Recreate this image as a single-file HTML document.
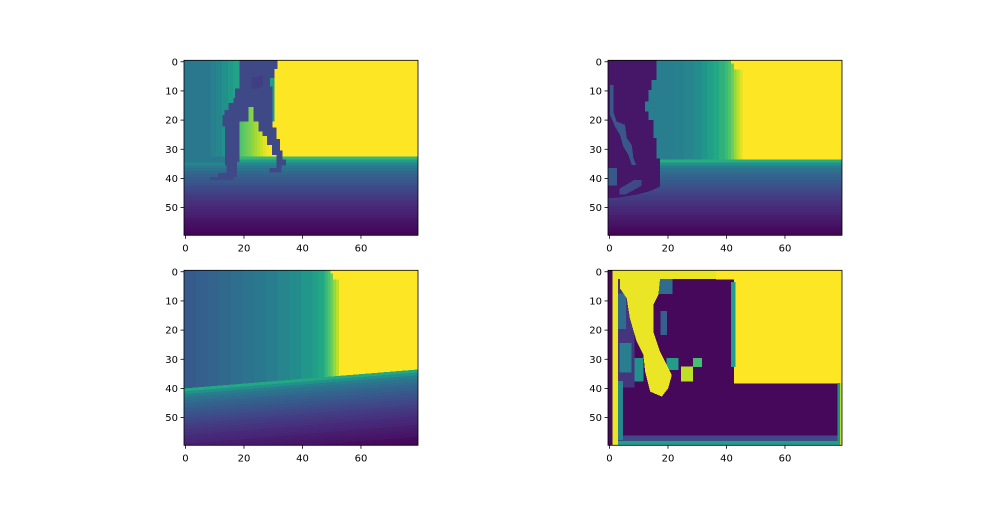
<!DOCTYPE html>
<html><head><meta charset="utf-8"><style>
html,body{margin:0;padding:0;background:#fff;}
svg text{font-family:"DejaVu Sans","Liberation Sans",sans-serif;font-size:10px;fill:#000;}
</style></head><body>
<svg id="fig" width="1000" height="500" viewBox="0 0 1000 500" xmlns="http://www.w3.org/2000/svg"></svg>
<script>
// ---- data (value 0..1 mapped through viridis), coordinates in image cells (80 cols x 60 rows)
const xTicks = [0, 20, 40, 60];
const yTicks = [0, 10, 20, 30, 40, 50];

// Panel 1 (top-left)
const p1Rects = [[0,0,9,36,0.40],[9,0,11,36,0.43],[11,0,13,36,0.46],[13,0,15,36,0.5],[15,0,17,36,0.54],[17,0,19,36,0.58],[19,0,31,21,0.55],[31,0,80,33,1.0],
  [19,21,20,33,0.72],[20,21,21,33,0.75],[21,21,22,33,0.78],[22,16,23,33,0.8],[23,16,24,33,0.83],[24,21,25,33,0.86],[25,21,26,33,0.89],[26,21,27,33,0.92],[27,21,28,33,0.95],[28,21,29,33,0.98],[29,21,31,33,1.0]];
const p1FloorStart = 33;
const p1Floor = [0.66,0.55,0.46,0.41,0.37,0.34,0.31,0.29,0.27,0.25,0.23,0.21,0.19,0.17,0.16,0.14,0.13,0.11,0.1,0.09,0.08,0.06,0.05,0.04,0.03,0.02,0.01];
const p1Slant = 0;
const p1Polys = [
  {v:0.40, pts:[[0,33],[19,33],[19,35],[0,35]]},
  {v:0.22, pts:[[19,0],[32,0],[32,3],[31,3],[31,6],[29.4,6],[29.4,9],[30.3,9],[30.3,23],[31.7,23],[31.7,27],[32.8,27],[32.8,31],[33.7,31],[33.7,34],[34.9,34],[34.9,36],[33.4,36],[33.4,38.4],[29.2,38.4],[29.2,37],[31.7,37],[31.7,32.4],[30,32.4],[30,29],[28.3,29],[28.3,26],[26.9,26],[26.9,24.4],[25.4,24.4],[25.4,21],[23.7,21],[23.7,16],[22,16],[22,21],[19,21],[19,34.7],[18.2,34.7],[18.2,40],[16.9,40],[16.9,41],[8.9,41],[8.9,40],[11.7,40],[11.7,38.7],[14.6,38.7],[14.6,36],[14,36],[14,22.7],[13.1,22.7],[13.1,18.7],[13.8,18.7],[13.8,17],[15.2,17],[15.2,14.7],[16.9,14.7],[16.9,13],[17.4,13],[17.4,9.6],[19,9.6]]},
  {v:0.18, pts:[[23,6],[27,5],[27,9],[24,10],[23,9]]}
];

// Panel 2 (top-right)
const p2Rects = [[0,0,17,34,0.42],[17,0,22,34,0.42],[22,0,26,34,0.43],[26,0,29,34,0.45],[29,0,32,34,0.48],[32,0,34,34,0.52],[34,0,36,34,0.56],[36,0,38,34,0.6],[38,0,40,34,0.64],[40,0,41,34,0.68],[41,0,42,34,0.72],[42,0,43,34,0.78],[43,0,44,34,0.84],[44,0,45,34,0.9],[45,0,46,34,0.95],[46,0,80,34,1.0],[42,0,46,1,1.0],[43,1,46,3,1.0]];
const p2FloorStart = 34;
const p2Floor = [0.62,0.5,0.42,0.38,0.35,0.32,0.3,0.28,0.26,0.24,0.22,0.2,0.18,0.17,0.15,0.14,0.12,0.11,0.1,0.08,0.07,0.06,0.05,0.03,0.02,0.01];
const p2Slant = 0;
const p2Polys = [
  {v:0.06, pts:[[0,0],[16.6,0],[16.6,6.7],[14.9,6.7],[14.9,10.2],[13.8,10.2],[13.8,14.2],[12.7,14.2],[12.7,17.6],[13.8,17.6],[13.8,20.4],[15.5,20.4],[15.5,26.7],[16.6,26.7],[16.6,33.6],[17.8,33.6],[17.8,43.3],[14,45],[10,46],[4,47],[0,47.3]]},
  {v:0.27, pts:[[0.7,8.5],[1.8,8.5],[1.8,17.6],[2.96,21],[5.8,22.1],[6.4,26.7],[8.1,29],[8.7,33.6],[9.6,35.9],[8.1,35.9],[6.95,32.4],[5.24,29.6],[4.1,25.6],[2.4,22.7],[0.7,18.7]]},
  {v:0.27, pts:[[0,37],[3,37],[3,43],[0,43]]},
  {v:0.22, pts:[[4,44],[9,41],[11.5,41],[11.5,43],[6,46],[4,46]]}
];

// Panel 3 (bottom-left)
const p3Rects = [[0,0,4,60,0.28],[4,0,8,60,0.3],[8,0,12,60,0.32],[12,0,16,60,0.34],[16,0,20,60,0.36],[20,0,24,60,0.38],[24,0,28,60,0.4],[28,0,32,60,0.42],[32,0,36,60,0.45],[36,0,40,60,0.48],[40,0,44,60,0.52],[44,0,46,60,0.56],[46,0,48,60,0.6],[48,0,49,60,0.66],[49,0,50,60,0.72],[50,0,51,60,0.78],[51,0,52,60,0.84],[52,0,53,60,0.9],[53,0,80,60,1.0],[50,0,53,1,1.0],[51,1,53,3,1.0]];
const p3FloorStart = 34;
const p3Floor = [0.6,0.5,0.42,0.38,0.35,0.32,0.3,0.28,0.26,0.24,0.22,0.2,0.18,0.17,0.15,0.14,0.12,0.11,0.1,0.08,0.07,0.06,0.05,0.03,0.02,0.01];
const p3Slant = 6.5;
const p3Polys = [];

// Panel 4 (bottom-right)
const p4Rects = [[0,0,80,60,0.02],[0,0,1.6,60,0.02],[1.6,0,3.5,60,0.97],[3.5,0,37,2.8,0.97],[37,0,80,3,1.0],[43,3,80,38.7,1.0],[42,4,43.5,33,0.55],
  [3.5,3,9,40,0.15],[3.5,8,6,20,0.35],[4,25,8,35,0.42],[9,30,12,38,0.5],[18,14,20,22,0.3],[20,30,24,34,0.55],[25,33,29,38,0.9],[29,30,32,33,0.7],[17,3,22,8,0.35],
  [3.5,56.6,78.5,58.5,0.22],[3.5,58.5,80,60,0.55],[3.5,38,5,58,0.45],[78.5,38.7,79.3,58.5,0.5],[79.3,38.7,80,60,0.9]];
const p4FloorStart = 60;
const p4Floor = [];
const p4Slant = 0;
const p4Polys = [
  {v:0.97, pts:[[4.1,2.75],[17.8,2.75],[17.2,8.5],[15.5,11.9],[15.5,21],[17.8,27.9],[21.8,35.9],[20.6,40.4],[18.4,43.3],[14.4,41.6],[12.7,34.7],[12.1,29],[9.8,24.4],[7.5,16.5],[6.4,9.6],[4.1,6.2]]}
];

const panels = [
  {name:'top-left', x0:184, y0:60.3, rects:p1Rects, floorStart:p1FloorStart, floor:p1Floor, slant:p1Slant, polys:p1Polys},
  {name:'top-right', x0:608, y0:60.3, rects:p2Rects, floorStart:p2FloorStart, floor:p2Floor, slant:p2Slant, polys:p2Polys},
  {name:'bottom-left', x0:184, y0:270.3, rects:p3Rects, floorStart:p3FloorStart, floor:p3Floor, slant:p3Slant, polys:p3Polys},
  {name:'bottom-right', x0:608, y0:270.3, rects:p4Rects, floorStart:p4FloorStart, floor:p4Floor, slant:p4Slant, polys:p4Polys}
];
const W = 234, H = 175, NC = 80, NR = 60;

const vir = ['#440154','#482475','#414487','#355f8d','#2a788e','#21918c','#22a884','#44bf70','#7ad151','#bddf26','#fde725'];
function hex(h){return [parseInt(h.slice(1,3),16),parseInt(h.slice(3,5),16),parseInt(h.slice(5,7),16)];}
function viridis(v){v=Math.max(0,Math.min(1,v));const t=v*10,i=Math.min(9,Math.floor(t)),f=t-i;const a=hex(vir[i]),b=hex(vir[i+1]);
  return 'rgb('+a.map((c,k)=>Math.round(c+(b[k]-c)*f)).join(',')+')';}
const NS='http://www.w3.org/2000/svg';
const svg=document.getElementById('fig');
function mk(tag,attrs,parent){const e=document.createElementNS(NS,tag);for(const k in attrs)e.setAttribute(k,attrs[k]);parent.appendChild(e);return e;}

panels.forEach((p,pi)=>{
  const sx=c=>p.x0+c*W/NC, sy=r=>p.y0+r*H/NR;
  const g=mk('g',{},svg);
  
  
  const cid='clip'+pi;
  const cp=mk('clipPath',{id:cid},g);
  mk('rect',{x:sx(0),y:sy(0),width:W,height:H},cp);
  const img=mk('g',{'clip-path':'url(#'+cid+')','shape-rendering':'crispEdges'},g);
  p.rects.forEach(r=>{
    const e=mk('rect',{x:sx(r[0]),y:sy(r[1]),width:sx(r[2])-sx(r[0])+0.3,height:sy(r[3])-sy(r[1])+0.3,fill:viridis(r[4])},img);
    
    
  });
  p.floor.forEach((v,i)=>{
    const r=p.floorStart+i;
    const pts=[[0,r+p.slant],[NC,r],[NC,NR],[0,NR]].map(q=>sx(q[0])+','+sy(q[1])).join(' ');
    const e=mk('polygon',{points:pts,fill:viridis(v)},img);
    
    
  });
  p.polys.forEach(o=>{
    const pts=o.pts.map(q=>sx(q[0])+','+sy(q[1])).join(' ');
    const e=mk('polygon',{points:pts,fill:viridis(o.v)},img);
    
    
  });
  const fr=mk('rect',{x:sx(0),y:sy(0),width:W,height:H,fill:'none',stroke:'#000','stroke-width':0.8},g);
  
  
  xTicks.forEach(t=>{
    const x=sx(t+0.5), y=sy(NR);
    mk('line',{x1:x,y1:y,x2:x,y2:y+3.5,stroke:'#000','stroke-width':0.8},g);
    const tx=mk('text',{x:x,y:y+16,'text-anchor':'middle'},g);
    tx.textContent=t;
    
    
  });
  yTicks.forEach(t=>{
    const y=sy(t+0.5), x=sx(0);
    mk('line',{x1:x,y1:y,x2:x-3.5,y2:y,stroke:'#000','stroke-width':0.8},g);
    const tx=mk('text',{x:x-6,y:y+3.6,'text-anchor':'end'},g);
    tx.textContent=t;
    
    
  });
});
</script>
</body></html>
